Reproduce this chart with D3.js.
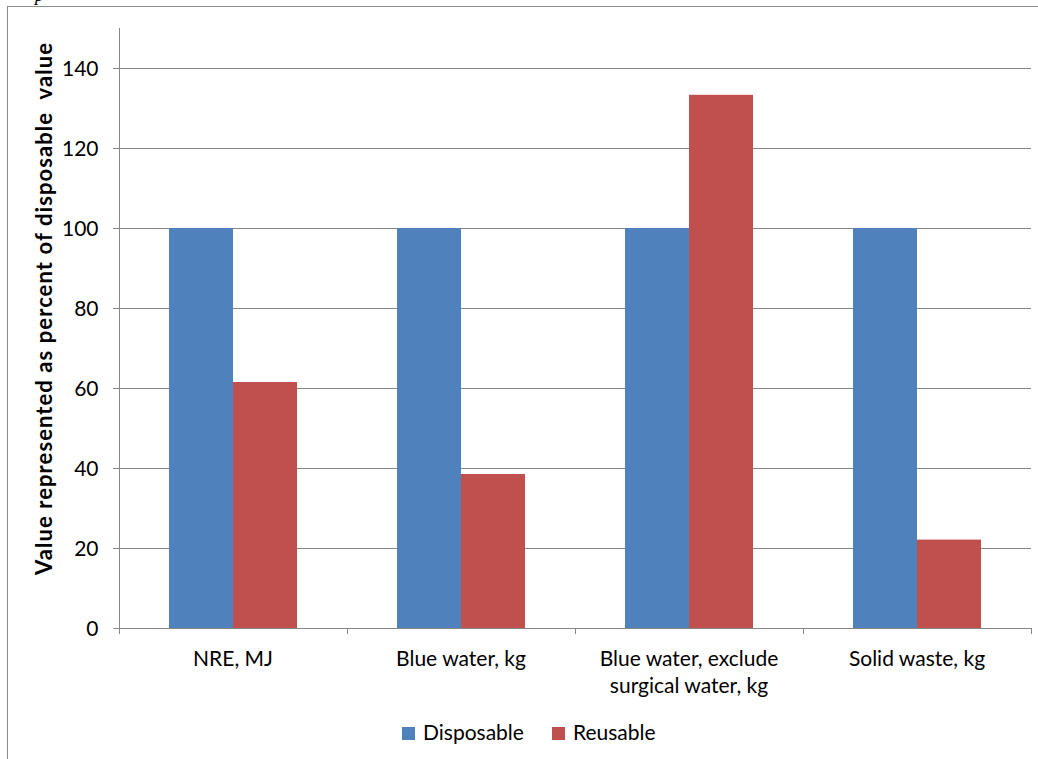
<!DOCTYPE html>
<html>
<head>
<meta charset="utf-8">
<script src="https://cdn.jsdelivr.net/npm/d3@7"></script>
<style>
  html, body { margin: 0; padding: 0; background: #fff; }
  svg { display: block; }
  text { font-family: Lato, "Open Sans", sans-serif; fill: #000; }
</style>
</head>
<body>
<svg id="chart" width="1038" height="759"></svg>
<script>
// Category labels (each entry is a list of lines)
const categories = [
  ["NRE, MJ"],
  ["Blue water, kg"],
  ["Blue water, exclude", "surgical water, kg"],
  ["Solid waste, kg"]
];
const seriesNames = ["Disposable", "Reusable"];
const disposable = [100, 100, 100, 100];
const reusable = [61.5, 38.5, 133.3, 22.1];
const yTicks = [0, 20, 40, 60, 80, 100, 120, 140];
const colors = ["#4f81bd", "#c0504d"];

const svg = d3.select("#chart");
const W = 1038, H = 759;
const plot = { left: 119, right: 1031, top: 28, bottom: 628 };
const axisColor = "#878787";
const fontSize = 21;

// outer frame lines
svg.append("line").attr("x1", 8).attr("x2", W).attr("y1", 6.5).attr("y2", 6.5)
  .attr("stroke", "#8c8c8c").attr("stroke-width", 1);
svg.append("line").attr("x1", 7.5).attr("x2", 7.5).attr("y1", 6).attr("y2", H)
  .attr("stroke", "#8c8c8c").attr("stroke-width", 1);
svg.append("text").attr("x", 35).attr("y", 1).attr("font-size", 18)
  .style("font-family", "'Liberation Serif', serif").style("font-style", "italic").text("p");

const x0 = d3.scaleBand().domain(d3.range(categories.length))
  .range([plot.left, plot.right]).paddingInner(0).paddingOuter(0);
// two bars per category with a 50px gap on each side of the pair
const gap = 50 / 228 * x0.bandwidth();
const inner = d3.scaleBand().domain(d3.range(seriesNames.length))
  .range([gap, x0.bandwidth() - gap]);

const y = d3.scaleLinear().domain([0, 150]).range([plot.bottom, plot.top]);

// gridlines
svg.append("g").selectAll("line").data(yTicks.filter(d => d > 0)).join("line")
  .attr("x1", plot.left - 6).attr("x2", plot.right)
  .attr("y1", d => Math.round(y(d)) + 0.5).attr("y2", d => Math.round(y(d)) + 0.5)
  .attr("stroke", axisColor).attr("stroke-width", 1);

// bars
const series = [disposable, reusable];
const gBars = svg.append("g");
series.forEach((vals, si) => {
  gBars.append("g").selectAll("rect").data(vals).join("rect")
    .attr("x", (d, i) => x0(i) + inner(si))
    .attr("width", inner.bandwidth())
    .attr("y", d => y(d))
    .attr("height", d => y(0) - y(d))
    .attr("fill", colors[si]);
});

// y axis
const yAxis = d3.axisLeft(y).tickValues(yTicks).tickSize(6).tickPadding(15).tickFormat(d3.format("d"));
const gy = svg.append("g").attr("transform", `translate(${plot.left + 0.5},0)`).call(yAxis);
gy.select(".domain").attr("stroke", axisColor).attr("d", `M-0,${plot.top}V${plot.bottom}`);
gy.selectAll(".tick line").attr("stroke", axisColor);
gy.selectAll(".tick text").attr("font-size", fontSize).attr("dy", "0.34em")
  .style("font-family", "Lato, sans-serif").attr("fill", "#000");

// x axis baseline and tick marks at band edges
const gx = svg.append("g");
gx.append("line").attr("x1", plot.left).attr("x2", plot.right)
  .attr("y1", plot.bottom + 0.5).attr("y2", plot.bottom + 0.5).attr("stroke", axisColor);
const edges = d3.range(categories.length + 1).map(i => plot.left + i * x0.bandwidth());
gx.selectAll("line.tk").data(edges).join("line").attr("class", "tk")
  .attr("x1", d => Math.round(d) + 0.5).attr("x2", d => Math.round(d) + 0.5)
  .attr("y1", plot.bottom).attr("y2", plot.bottom + 6).attr("stroke", axisColor);

// category labels
const gl = svg.append("g");
categories.forEach((lines, i) => {
  const cx = x0(i) + x0.bandwidth() / 2;
  const t = gl.append("text").attr("text-anchor", "middle").attr("font-size", fontSize)
    .attr("x", cx).attr("y", 666);
  lines.forEach((ln, j) => {
    t.append("tspan").attr("x", cx).attr("dy", j === 0 ? 0 : 27).text(ln);
  });
});

// y axis title
svg.append("text").attr("transform", `translate(52,${(43 + 575) / 2}) rotate(-90)`)
  .attr("text-anchor", "middle").attr("font-size", 22).attr("font-weight", "bold")
  .style("white-space", "pre")
  .attr("textLength", 532).attr("lengthAdjust", "spacing")
  .text("Value represented as percent of disposable  value");

// legend
const legend = svg.append("g");
const legendItems = [{ x: 402, name: seriesNames[0], c: colors[0] }, { x: 552, name: seriesNames[1], c: colors[1] }];
legendItems.forEach(it => {
  legend.append("rect").attr("x", it.x).attr("y", 727).attr("width", 13).attr("height", 13).attr("fill", it.c);
  legend.append("text").attr("x", it.x + 21).attr("y", 740).attr("font-size", fontSize).text(it.name);
});
</script>
</body>
</html>
